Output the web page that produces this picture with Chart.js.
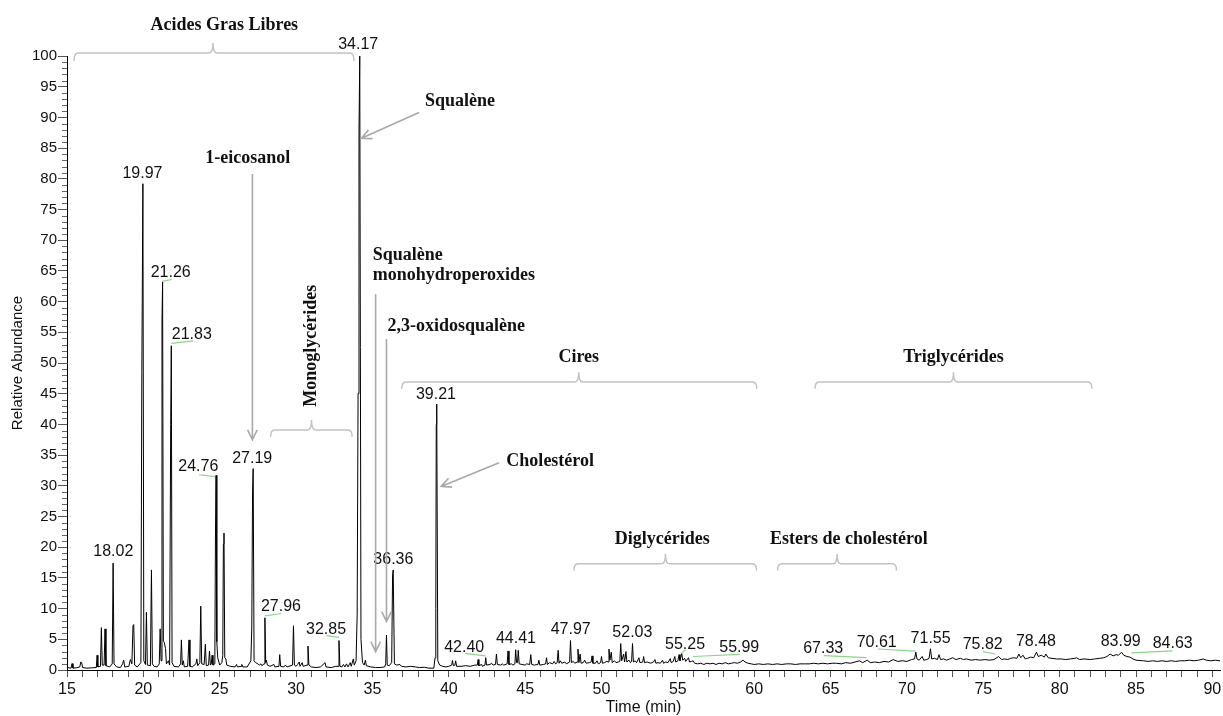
<!DOCTYPE html>
<html>
<head>
<meta charset="utf-8">
<script src="https://cdn.jsdelivr.net/npm/chart.js@4.4.1/dist/chart.umd.min.js"></script>
<style>
  html, body { margin: 0; padding: 0; background: #fff; }
  #wrap { width: 1223px; height: 716px; }
</style>
</head>
<body>
<div id="wrap"><canvas id="chrom" width="1223" height="716"></canvas></div>
<script>
// Chromatogram: [time (min), relative abundance (%)]
const traceFattyAcids = [
  [15.0,0.4],[15.27,0.3],[15.33,1.05],[15.39,0.3],[15.6,0.35],[15.84,0.5],[15.9,1.3],[15.96,1.2],[16.02,0.4],
  [16.3,0.3],[16.6,0.35],[16.92,0.4],[16.97,2.4],[17.02,0.5],[17.19,0.6],[17.25,6.9],[17.31,0.8],[17.43,0.8],
  [17.49,6.7],[17.55,0.7],[17.8,0.5],[17.96,1.0],[18.02,17.4],[18.08,1.0],[18.25,0.5],[18.5,0.4],[18.64,1.0],
  [18.71,1.6],[18.78,0.5],[19.05,0.6],[19.15,1.7],[19.25,1.0],[19.32,7.2],[19.37,7.4],[19.43,0.8],[19.6,0.5],
  [19.84,1.2],[19.9,48.5],[19.97,79.2],[20.03,1.5],[20.14,0.9],[20.2,9.4],[20.26,0.8],[20.46,0.7],[20.53,16.3],
  [20.59,1.0],[20.7,0.6],[20.9,0.5],[21.04,1.0],[21.1,6.7],[21.16,1.5],[21.22,57.0],[21.26,63.2],[21.31,4.7],
  [21.37,4.5],[21.45,3.5],[21.51,1.0],[21.64,1.5],[21.72,0.8],[21.79,40.0],[21.83,52.8],[21.88,1.2],[22.0,0.6],
  [22.3,0.5],[22.44,1.0],[22.49,4.9],[22.55,0.8],[22.62,1.5],[22.68,0.5],[22.9,0.6],[22.99,4.9],[23.05,0.6],
  [23.2,0.5],[23.44,1.0],[23.5,1.8],[23.56,0.7],[23.7,1.2],[23.76,10.4],[23.82,1.0],[23.98,0.9],[24.06,4.2],
  [24.12,0.7],[24.27,0.8],[24.33,3.1],[24.39,0.8],[24.45,1.0],[24.5,2.4],[24.56,0.8],[24.68,1.0],[24.72,21.5],
  [24.76,31.7],[24.81,4.6],[24.87,2.0],[25.0,0.8],[25.14,1.2],[25.2,2.4],[25.24,20.5],[25.28,22.3],[25.33,2.0],
  [25.4,1.8],[25.46,0.8],[25.7,0.6],[26.0,0.5],[26.1,0.9],[26.16,0.5],[26.4,0.6],[26.45,0.9],[26.51,0.5],[26.8,0.5]
];
const traceSqualene = [
  [27.04,1.5],[27.1,7.0],[27.15,29.0],[27.19,32.8],[27.25,1.5],[27.35,1.2],[27.5,1.0],[27.6,0.8],[27.7,1.0],
  [27.76,0.7],[27.9,1.0],[27.96,8.5],[28.01,1.2],[28.06,1.6],[28.12,0.8],[28.3,0.6],[28.55,0.9],[28.61,0.5],
  [28.88,0.6],[28.93,2.5],[28.99,0.6],[29.2,0.5],[29.3,0.8],[29.4,0.5],[29.77,0.8],[29.83,7.2],[29.89,0.8],
  [30.0,0.6],[30.1,0.9],[30.2,1.3],[30.26,0.6],[30.4,1.2],[30.46,0.6],[30.72,0.8],[30.78,3.9],[30.84,0.8],
  [31.0,0.5],[31.3,0.4],[31.6,0.5],[31.9,1.2],[31.96,0.5],[32.3,0.4],[32.6,0.6],[32.75,0.6],[32.81,4.8],
  [32.87,0.6],[33.0,0.5],[33.1,0.9],[33.2,0.5],[33.3,1.0],[33.4,0.5],[33.55,1.2],[33.61,0.6],[33.75,1.8],
  [33.81,0.8],[33.93,1.5],[34.0,9.0],[34.06,45.0],[34.12,87.5],[34.17,100],[34.25,5.0],[34.35,1.2],[34.46,0.8],
  [34.54,1.6],[34.6,0.7],[34.9,0.5],[35.2,0.4],[35.5,0.4],[35.8,0.5],[35.87,1.0],[35.92,5.7],[35.97,0.8],
  [36.1,0.7],[36.26,1.2],[36.32,15.5],[36.36,16.3],[36.44,1.0],[36.6,0.8],[36.8,0.9],[36.9,0.6],[37.2,0.5],
  [37.5,0.6],[37.8,0.5],[38.1,0.4],[38.4,0.45],[38.7,0.3],[39.02,0.3]
];
const traceWaxes = [
  [39.1,2.0],[39.15,10.0],[39.18,40.0],[39.21,43.3],[39.28,1.5],[39.4,0.8],[39.6,0.6],[39.8,0.5],[40.0,0.6],
  [40.19,0.8],[40.24,1.55],[40.3,0.7],[40.4,0.8],[40.45,1.5],[40.51,0.6],[40.8,0.6],[41.1,0.7],[41.4,0.6],
  [41.7,0.8],[41.87,0.8],[41.92,1.7],[41.97,0.7],[42.15,0.9],[42.2,0.6],[42.37,0.8],[42.42,2.0],[42.47,0.8],
  [42.7,0.9],[42.8,1.1],[42.9,0.8],[43.06,0.9],[43.12,2.6],[43.18,0.9],[43.4,0.8],[43.5,1.0],[43.6,0.8],
  [43.82,1.0],[43.88,3.1],[43.94,0.9],[44.1,1.0],[44.2,0.8],[44.33,1.0],[44.38,3.3],[44.44,1.2],[44.5,1.2],
  [44.55,3.2],[44.61,1.0],[44.8,0.9],[45.0,0.8],[45.1,1.0],[45.3,0.9],[45.37,2.5],[45.43,0.9],[45.6,0.8],
  [45.84,0.9],[45.9,1.6],[45.96,0.8],[46.2,0.9],[46.34,1.0],[46.4,2.0],[46.46,0.9],[46.6,1.2],[46.8,1.0],
  [46.9,1.4],[47.0,1.0],[47.1,1.2],[47.16,3.2],[47.22,1.1],[47.3,1.5],[47.4,1.1],[47.6,1.3],[47.7,1.0],
  [47.91,1.3],[47.97,4.8],[48.03,1.2],[48.15,1.4],[48.25,1.1],[48.4,1.3],[48.46,3.4],[48.52,1.2],[48.6,2.6],
  [48.66,1.1],[48.8,1.2],[48.9,1.6],[49.0,1.1],[49.2,1.2],[49.32,1.3],[49.38,2.3],[49.44,1.1],[49.6,1.1],
  [49.7,1.5],[49.8,1.0],[49.94,1.2],[50.0,2.2],[50.06,1.1],[50.2,1.2],[50.35,1.4],[50.43,1.3],[50.49,3.4],
  [50.55,1.6],[50.64,2.9],[50.7,1.2],[50.85,1.5],[50.95,1.2],[51.1,1.3],[51.2,1.4],[51.26,4.3],[51.32,1.5],
  [51.45,2.6],[51.51,1.3],[51.6,3.0],[51.66,1.3],[51.8,1.6],[51.9,1.2],[51.97,1.4],[52.03,4.3],[52.09,1.3],
  [52.2,1.5],[52.3,1.2],[52.45,2.0],[52.51,1.2],[52.7,1.3],[52.76,2.2],[52.82,1.2],[53.0,1.3],[53.2,1.1],
  [53.4,1.3],[53.5,1.7],[53.56,1.1],[53.7,1.2],[53.85,1.1],[54.0,1.6],[54.06,1.1],[54.2,1.3],[54.35,1.2],
  [54.5,1.85],[54.56,1.2],[54.7,1.4],[54.8,2.2],[54.86,1.3],[55.0,1.5],[55.08,2.5],[55.14,1.5],[55.25,2.7],
  [55.32,1.6],[55.45,1.9],[55.51,1.4],[55.7,2.0],[55.76,1.3],[55.9,1.4],[56.0,1.5],[56.1,1.1]
];
const traceTriglycerides = [
  [56.3,1.0],[56.5,1.1],[56.7,0.9],[56.9,1.1],[57.1,1.0],[57.3,1.1],[57.5,0.9],[57.7,1.1],[57.9,1.0],
  [58.1,1.2],[58.3,1.0],[58.5,1.1],[58.7,1.2],[58.9,1.1],[59.1,1.3],[59.27,1.6],[59.4,1.3],[59.6,1.1],
  [59.8,1.0],[60.0,0.9],[60.3,1.0],[60.6,0.9],[60.9,1.0],[61.2,0.9],[61.5,1.0],[61.8,0.9],[62.1,1.0],
  [62.4,1.0],[62.7,0.9],[63.0,1.0],[63.3,1.0],[63.6,1.0],[63.9,1.1],[64.2,1.0],[64.5,1.1],[64.8,1.0],
  [65.1,1.1],[65.4,1.1],[65.7,1.0],[66.0,1.2],[66.3,1.1],[66.6,1.3],[66.9,1.5],[67.1,1.2],[67.4,1.6],
  [67.6,1.2],[67.9,1.3],[68.2,1.2],[68.5,1.4],[68.8,1.3],[69.1,1.7],[69.4,1.4],[69.7,1.5],[70.0,1.4],
  [70.3,1.7],[70.5,1.8],[70.58,2.9],[70.66,1.8],[70.8,1.6],[71.0,2.2],[71.1,1.6],[71.3,1.7],[71.45,1.9],
  [71.54,3.45],[71.62,1.8],[71.8,1.9],[72.0,1.7],[72.1,2.5],[72.2,1.7],[72.4,1.8],[72.6,1.6],[72.8,1.8],
  [73.0,2.0],[73.2,1.7],[73.5,1.9],[73.7,1.7],[73.9,1.8],[74.2,1.6],[74.5,1.7],[74.8,1.6],[75.1,1.7],
  [75.4,1.6],[75.7,1.7],[76.0,2.2],[76.2,1.7],[76.4,1.8],[76.6,1.7],[76.8,1.9],[77.0,2.0],[77.2,1.9],
  [77.33,2.6],[77.45,2.0],[77.6,2.4],[77.75,1.8],[77.9,1.9],[78.1,2.1],[78.3,2.0],[78.48,2.9],[78.6,2.2],
  [78.8,2.4],[79.0,2.1],[79.1,2.6],[79.25,2.0],[79.5,1.9],[79.8,1.8],[80.1,1.8],[80.4,1.7],[80.7,1.8],
  [81.0,1.9],[81.1,2.0],[81.3,1.7],[81.6,1.8],[82.0,1.7],[82.3,1.8],[82.6,1.9],[82.9,2.0],[83.1,2.2],
  [83.3,2.6],[83.5,2.3],[83.7,2.5],[83.85,2.4],[84.05,2.9],[84.2,2.4],[84.4,2.2],[84.6,2.1],[84.8,1.8],
  [85.0,1.6],[85.2,1.55],[85.5,1.5],[85.8,1.4],[86.1,1.5],[86.4,1.4],[86.7,1.5],[87.0,1.4],[87.3,1.5],
  [87.6,1.4],[87.9,1.5],[88.2,1.5],[88.5,1.6],[88.8,1.5],[89.1,1.6],[89.4,1.8],[89.6,1.6],[89.9,1.5],
  [90.2,1.6],[90.5,1.5]
];

const peakLabels = ['18.02','19.97','21.26','21.83','24.76','27.19','27.96','32.85','34.17','36.36','39.21',
  '42.40','44.41','47.97','52.03','55.25','55.99','67.33','70.61','71.55','75.82','78.48','83.99','84.63'];
const xTickLabels = [15,20,25,30,35,40,45,50,55,60,65,70,75,80,85,90];
const yTickLabels = [0,5,10,15,20,25,30,35,40,45,50,55,60,65,70,75,80,85,90,95,100];

// placement of the texts and marks drawn over the plot, in axis units
const labelPos = {
  '18.02':[18.03,19.3], '19.97':[19.94,80.9], '21.26':[21.79,64.7], '21.83':[23.17,54.6], '24.76':[23.6,33.1],
  '27.19':[27.13,34.5], '27.96':[29.01,10.3], '32.85':[31.96,6.6], '34.17':[34.07,101.9], '36.36':[36.37,18.0],
  '39.21':[39.16,44.8], '42.40':[41.01,3.7], '44.41':[44.4,5.05], '47.97':[47.98,6.6], '52.03':[52.02,6.1],
  '55.25':[55.47,4.2], '55.99':[59.02,3.6], '67.33':[64.52,3.5], '70.61':[68.02,4.5], '71.55':[71.55,5.15],
  '75.82':[74.96,4.07], '78.48':[78.45,4.6], '83.99':[84.0,4.6], '84.63':[87.4,4.23]
};
const connectors = [
  [21.22,63.3,21.87,63.6],[21.83,53.2,23.25,53.6],[23.65,31.8,24.67,31.5],[27.95,8.8,29.04,9.2],
  [31.99,5.6,32.8,5.3],[41.06,2.7,42.41,2.3],[55.23,2.7,55.5,3.3],[55.99,2.2,59.04,2.55],[64.56,2.33,67.35,2.0],
  [68.1,3.42,70.57,3.09],[74.98,2.98,75.81,2.61],[84.7,2.8,87.39,3.13]
];
const brackets = [
  // x1, x2, xMid, yLine, yEnds, yTick, text, textX, textY
  [15.46,33.79,24.56,100.5,99.2,102.1,'Acides Gras Libres',25.3,105.0],
  [28.33,33.67,31.01,39.1,38.0,40.7,null,0,0],
  [36.92,60.17,48.51,46.9,45.8,48.5,'Cires',48.51,51.0],
  [63.98,82.12,73.05,46.9,45.8,48.5,'Triglycérides',73.05,51.0],
  [48.19,60.15,54.19,17.3,16.2,18.9,'Diglycérides',53.98,21.2],
  [61.53,69.32,65.43,17.3,16.2,18.9,'Esters de cholestérol',66.2,21.2]
];
const arrows = [
  [27.14,80.8,27.14,37.5],[38.05,90.8,34.28,86.6],[35.21,61.2,35.21,3.0],[35.92,53.9,35.92,7.9],[43.29,33.75,39.5,29.9]
];
const names = [
  ['1-eicosanol',26.84,83.4,'center'],['Squalène',40.74,92.6,'center'],['Squalène',35.02,67.6,'left'],
  ['monohydroperoxides',35.02,64.2,'left'],['2,3-oxidosqualène',35.98,55.9,'left'],['Cholestérol',46.64,34.0,'center']
];

const trace = traceFattyAcids.concat(traceSqualene, traceWaxes, traceTriglycerides).map(p => ({x: p[0], y: p[1]}));

const serif = 'bold 18px "Liberation Serif", "Times New Roman", serif';
const sans = '16px "Liberation Sans", Arial, sans-serif';

const overlay = {
  id: 'overlay',
  afterDatasetsDraw(chart) {
    const ctx = chart.ctx, xs = chart.scales.x, ys = chart.scales.y;
    const X = v => xs.getPixelForValue(v), Y = v => ys.getPixelForValue(v);
    ctx.save();

    // minor ticks on the abundance axis
    ctx.strokeStyle = '#666';
    ctx.lineWidth = 1;
    ctx.beginPath();
    for (let v = 1; v < 100; v++) {
      if (v % 5 === 0) continue;
      const y = Math.round(Y(v)) + 0.5;
      ctx.moveTo(xs.left - 5, y);
      ctx.lineTo(xs.left, y);
    }
    ctx.stroke();

    // green connectors between labels and peaks
    ctx.strokeStyle = '#8cd48c';
    ctx.lineWidth = 1.2;
    connectors.forEach(c => {
      ctx.beginPath();
      ctx.moveTo(X(c[0]), Y(c[1]));
      ctx.lineTo(X(c[2]), Y(c[3]));
      ctx.stroke();
    });

    // peak retention time labels
    ctx.fillStyle = '#111';
    ctx.font = sans;
    ctx.textAlign = 'center';
    ctx.textBaseline = 'middle';
    peakLabels.forEach(l => {
      const p = labelPos[l];
      ctx.fillText(l, X(p[0]), Y(p[1]));
    });

    // brackets
    ctx.strokeStyle = '#c2c2c2';
    ctx.lineWidth = 1.5;
    brackets.forEach(b => {
      const x1 = X(b[0]), x2 = X(b[1]), xm = X(b[2]), yl = Y(b[3]), ye = Y(b[4]), yt = Y(b[5]);
      ctx.beginPath();
      ctx.moveTo(x1, ye);
      ctx.quadraticCurveTo(x1, yl, x1 + 4, yl);
      ctx.lineTo(xm - 4, yl);
      ctx.quadraticCurveTo(xm, yl, xm, yt);
      ctx.quadraticCurveTo(xm, yl, xm + 4, yl);
      ctx.lineTo(x2 - 4, yl);
      ctx.quadraticCurveTo(x2, yl, x2, ye);
      ctx.stroke();
    });

    // arrows
    ctx.strokeStyle = '#a8a8a8';
    ctx.lineWidth = 1.6;
    arrows.forEach(a => {
      const x1 = X(a[0]), y1 = Y(a[1]), x2 = X(a[2]), y2 = Y(a[3]);
      const ang = Math.atan2(y2 - y1, x2 - x1), h = 11;
      ctx.beginPath();
      ctx.moveTo(x1, y1);
      ctx.lineTo(x2, y2);
      ctx.moveTo(x2 - h * Math.cos(ang - 0.45), y2 - h * Math.sin(ang - 0.45));
      ctx.lineTo(x2, y2);
      ctx.lineTo(x2 - h * Math.cos(ang + 0.45), y2 - h * Math.sin(ang + 0.45));
      ctx.stroke();
    });

    // group and compound names
    ctx.fillStyle = '#111';
    ctx.font = serif;
    brackets.forEach(b => {
      if (!b[6]) return;
      ctx.textAlign = 'center';
      ctx.fillText(b[6], X(b[7]), Y(b[8]));
    });
    names.forEach(n => {
      ctx.textAlign = n[3];
      ctx.fillText(n[0], X(n[1]), Y(n[2]));
    });
    ctx.save();
    ctx.translate(X(31.01), Y(52.8));
    ctx.rotate(-Math.PI / 2);
    ctx.textAlign = 'center';
    ctx.fillText('Monoglycérides', 0, 0);
    ctx.restore();

    ctx.restore();
  }
};

new Chart(document.getElementById('chrom').getContext('2d'), {
  type: 'line',
  data: {
    datasets: [{
      data: trace,
      borderColor: '#000',
      borderWidth: 1,
      pointRadius: 0,
      tension: 0,
      fill: false
    }]
  },
  options: {
    responsive: false,
    animation: false,
    devicePixelRatio: 1,
    layout: { padding: { top: 56, right: 3, left: 0, bottom: 0 } },
    plugins: { legend: { display: false }, tooltip: { enabled: false } },
    scales: {
      x: {
        type: 'linear',
        min: 15,
        max: 90.5,
        afterFit: s => { s.height = 46; s.paddingLeft = 0; s.paddingRight = 0; },
        ticks: {
          stepSize: 1,
          includeBounds: false,
          autoSkip: false,
          maxRotation: 0,
          padding: 3,
          color: '#111',
          font: { family: '"Liberation Sans", Arial, sans-serif', size: 16 },
          callback: v => xTickLabels.includes(v) ? String(v) : ''
        },
        grid: { drawOnChartArea: false, tickLength: 7, tickColor: '#555' },
        border: { color: '#000', width: 1 },
        title: {
          display: true,
          text: 'Time (min)',
          color: '#111',
          font: { family: '"Liberation Sans", Arial, sans-serif', size: 16, lineHeight: 1 },
          padding: { top: 0, bottom: 0 }
        }
      },
      y: {
        min: 0,
        max: 100,
        afterFit: s => { s.width = 67; s.paddingTop = 0; s.paddingBottom = 0; },
        afterBuildTicks: s => { s.ticks = yTickLabels.map(v => ({ value: v })); },
        ticks: {
          padding: 1,
          color: '#111',
          font: { family: '"Liberation Sans", Arial, sans-serif', size: 15 }
        },
        grid: { drawOnChartArea: false, tickLength: 9, tickColor: '#555' },
        border: { color: '#000', width: 1 },
        title: {
          display: true,
          text: 'Relative Abundance',
          color: '#111',
          font: { family: '"Liberation Sans", Arial, sans-serif', size: 15, lineHeight: 1 },
          padding: { top: 10, bottom: 0 }
        }
      }
    }
  },
  plugins: [overlay]
});
</script>
</body>
</html>
